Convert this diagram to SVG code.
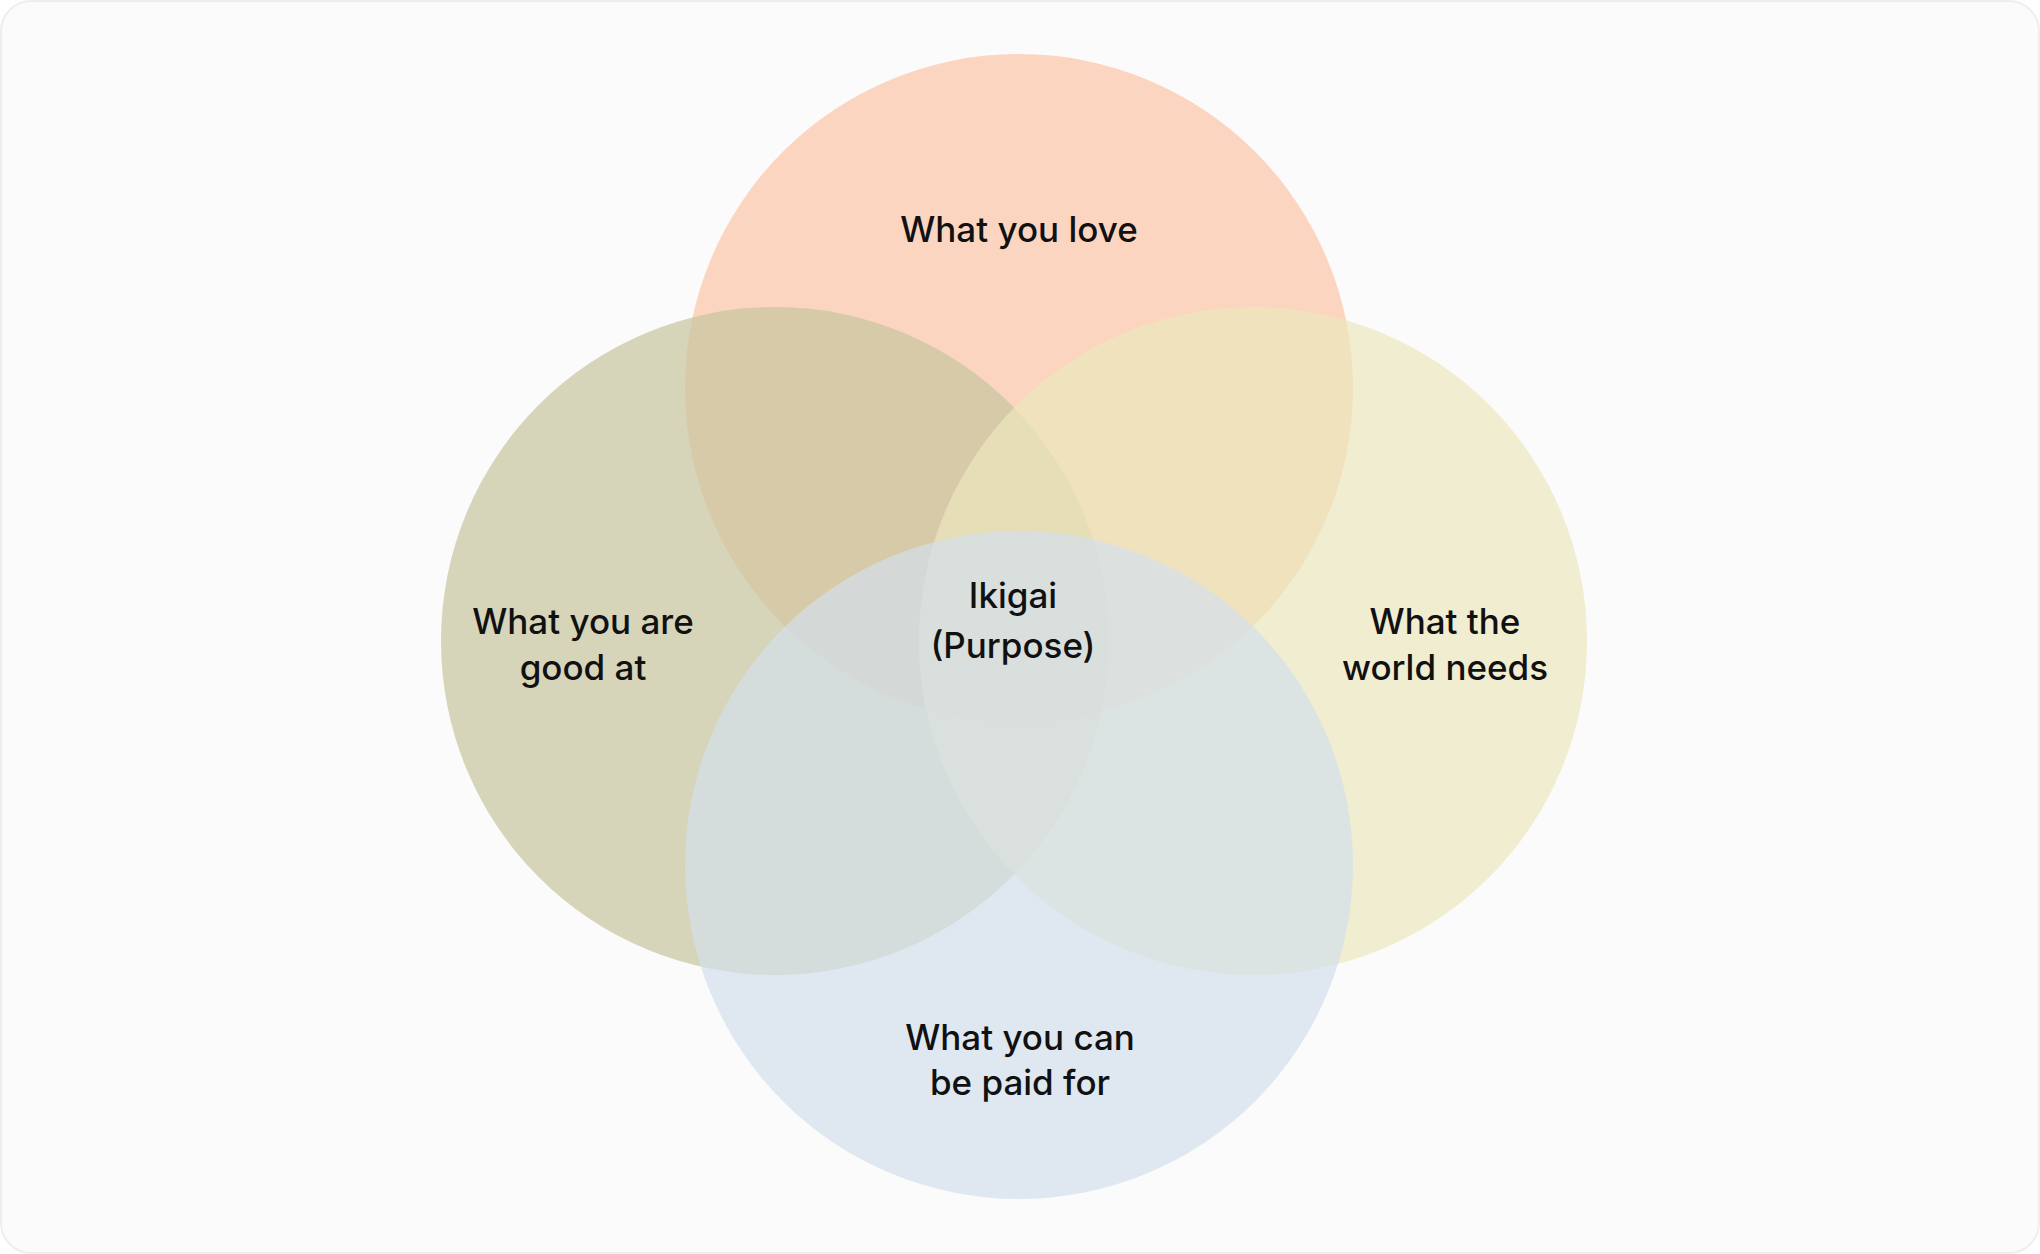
<svg xmlns="http://www.w3.org/2000/svg" width="2040" height="1254" viewBox="0 0 2040 1254">
<style>
.c{opacity:0.7}
.t{font-family:Inter,"Liberation Sans",sans-serif;font-size:35px;font-weight:500;fill:#111;text-anchor:middle;dominant-baseline:central}
</style>
<rect x="1" y="1" width="2038" height="1252" rx="30" fill="#FBFBFB" stroke="#EEEEEE" stroke-width="2"/>
<g id="love"><circle class="c" cx="1019" cy="388" r="334" fill="#FCC5A7"/></g>
<g id="good"><circle class="c" cx="775" cy="641" r="334" fill="#C6C59E"/></g>
<g id="needs"><circle class="c" cx="1253" cy="641" r="334" fill="#EDE7BE"/></g>
<g id="paid"><circle class="c" cx="1019" cy="865" r="334" fill="#D3E0EB"/></g>
<g id="labels">
<text class="t" x="1019" y="229">What you love</text>
<text class="t" x="583" y="621">What you are</text>
<text class="t" x="583" y="667">good at</text>
<text class="t" x="1445" y="621">What the</text>
<text class="t" x="1445" y="667">world needs</text>
<text class="t" x="1013" y="595">Ikigai</text>
<text class="t" x="1013" y="645">(Purpose)</text>
<text class="t" x="1020" y="1037">What you can</text>
<text class="t" x="1020" y="1082">be paid for</text>
</g>
<g id="connectors"/>
</svg>
